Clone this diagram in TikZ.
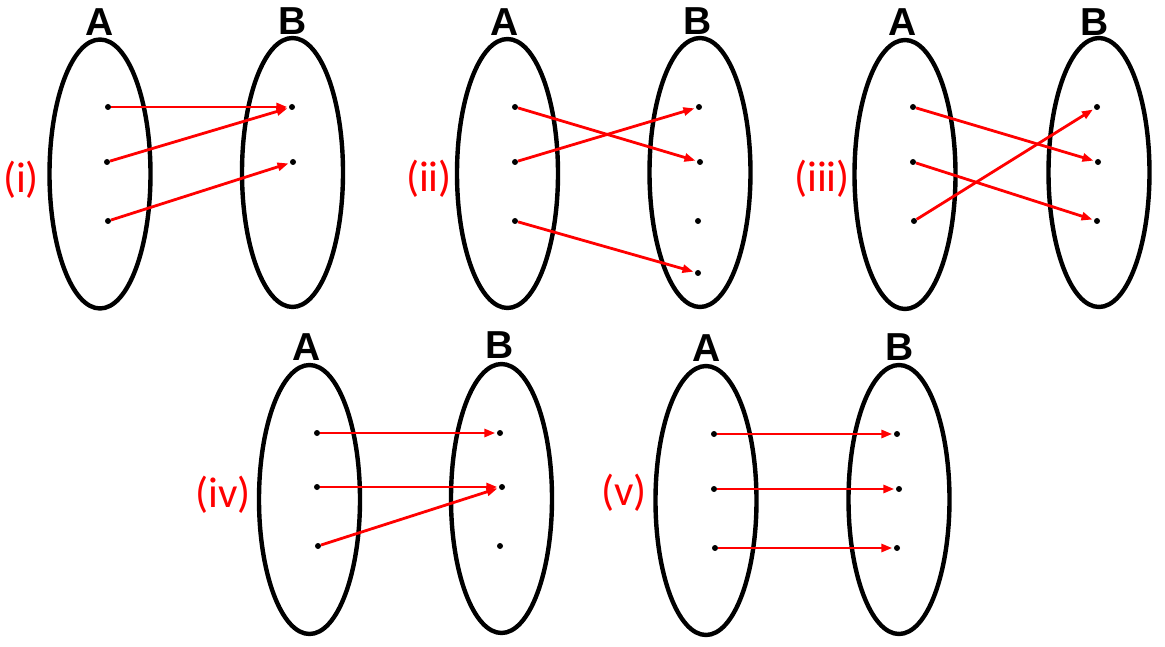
\documentclass[tikz,border=0pt]{standalone}
\usepackage{fontspec}
\setmainfont{Liberation Sans}
\newfontfamily\lblfont{Carlito}
\usetikzlibrary{shapes.geometric,arrows.meta}
\begin{document}
\begin{tikzpicture}[x=1pt,y=-1pt,
  setshape/.style={ellipse,draw=black,line width=4.4pt,inner sep=0pt,minimum width=101pt,minimum height=269pt},
  settitle/.style={font=\fontsize{39}{39}\selectfont\bfseries,inner sep=0pt},
  elem/.style={circle,fill=black,minimum size=6pt,inner sep=0pt},
  maplbl/.style={text=red,font=\lblfont\fontsize{43}{43}\selectfont,inner sep=0pt},
  maparrow/.style={draw=red,line width=2.8pt,-{Triangle[length=11pt,width=8pt]},shorten >=1.5pt,shorten <=0pt}]
\useasboundingbox (0,0) rectangle (1165,647);
% ---------- (i)
\node[setshape] (iA) at (100,174) {};
\node[setshape] (iB) at (292.5,172.5) {};
\node[settitle] (iAt) at (100,22) {A};
\node[settitle] (iBt) at (293,21) {B};
\node[maplbl] (il) at (21,180) {(i)};
\node[elem] (ia1) at (108,107) {};
\node[elem] (ia2) at (107,162) {};
\node[elem] (ia3) at (108,221) {};
\node[elem] (ib1) at (292,107) {};
\node[elem] (ib2) at (293,162) {};
\draw[maparrow] (ia1) -- (ib1);
\draw[maparrow] (ia2) -- (ib1);
\draw[maparrow] (ia3) -- (ib2);
% ---------- (ii)
\node[setshape] (iiA) at (507.5,173.5) {};
\node[setshape] (iiB) at (700,172.5) {};
\node[settitle] (iiAt) at (505,22) {A};
\node[settitle] (iiBt) at (698,21) {B};
\node[maplbl] (iil) at (429,179) {(ii)};
\node[elem] (iia1) at (515,107) {};
\node[elem] (iia2) at (515,162) {};
\node[elem] (iia3) at (515,221) {};
\node[elem] (iib1) at (699,107) {};
\node[elem] (iib2) at (700,162) {};
\node[elem] (iib3) at (698,221) {};
\node[elem] (iib4) at (698,273) {};
\draw[maparrow] (iia1) -- (iib2);
\draw[maparrow] (iia2) -- (iib1);
\draw[maparrow] (iia3) -- (iib4);
% ---------- (iii)
\node[setshape] (iiiA) at (905,174.5) {};
\node[setshape] (iiiB) at (1099,172.5) {};
\node[settitle] (iiiAt) at (903,22) {A};
\node[settitle] (iiiBt) at (1095,22) {B};
\node[maplbl] (iiil) at (822,179) {(iii)};
\node[elem] (iiia1) at (913,107) {};
\node[elem] (iiia2) at (913,162) {};
\node[elem] (iiia3) at (914,221) {};
\node[elem] (iiib1) at (1097,107) {};
\node[elem] (iiib2) at (1098,162) {};
\node[elem] (iiib3) at (1097,221) {};
\draw[maparrow] (iiia1) -- (iiib2);
\draw[maparrow] (iiia2) -- (iiib3);
\draw[maparrow] (iiia3) -- (iiib1);
% ---------- (iv)
\node[setshape] (ivA) at (309.5,499.5) {};
\node[setshape] (ivB) at (501.5,498.5) {};
\node[settitle] (ivAt) at (307,347) {A};
\node[settitle] (ivBt) at (500,345) {B};
\node[maplbl] (ivl) at (223,495) {(iv)};
\node[elem] (iva1) at (317,433) {};
\node[elem] (iva2) at (317,487) {};
\node[elem] (iva3) at (318,546) {};
\node[elem] (ivb1) at (500,433) {};
\node[elem] (ivb2) at (502,487) {};
\node[elem] (ivb3) at (500,546) {};
\draw[maparrow] (iva1) -- (ivb1);
\draw[maparrow] (iva2) -- (ivb2);
\draw[maparrow] (iva3) -- (ivb2);
% ---------- (v)
\node[setshape] (vA) at (706,500.5) {};
\node[setshape] (vB) at (899,499.5) {};
\node[settitle] (vAt) at (707,348) {A};
\node[settitle] (vBt) at (900,347) {B};
\node[maplbl] (vl) at (624,493) {(v)};
\node[elem] (va1) at (714,434) {};
\node[elem] (va2) at (714,489) {};
\node[elem] (va3) at (715,548) {};
\node[elem] (vb1) at (897,434) {};
\node[elem] (vb2) at (899,489) {};
\node[elem] (vb3) at (897,548) {};
\draw[maparrow] (va1) -- (vb1);
\draw[maparrow] (va2) -- (vb2);
\draw[maparrow] (va3) -- (vb3);
\end{tikzpicture}
\end{document}
